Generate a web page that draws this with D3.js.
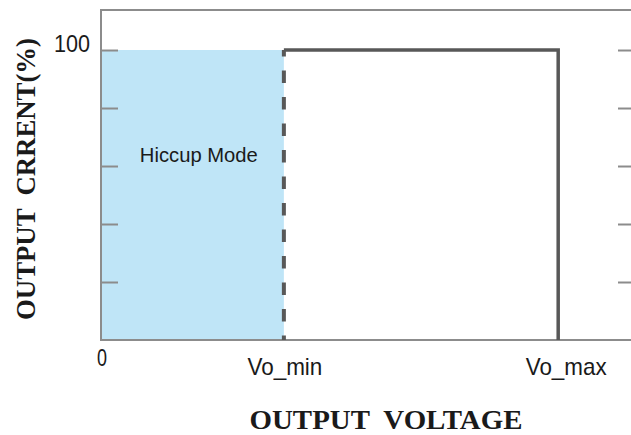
<!doctype html>
<html lang="en">
<head>
  <meta charset="utf-8">
  <script src="https://d3js.org/d3.v7.min.js"></script>
  <style>
    body { margin: 0; background: #fff; }
    text { font-family: "Liberation Sans", Arial, sans-serif; fill: #1a1a1a; }
    .title { font-family: "Liberation Serif", "Times New Roman", serif; font-weight: bold; white-space: pre; }
  </style>
</head>
<body>
  <script>
    // chart data
    var xLabels = ["0", "Vo_min", "Vo_max"];
    var xValues = [0, 1, 2.5];
    var yTicks = [20, 40, 60, 80, 100];
    var yLabel = [100];
    var hiccupArea = [[0, 0], [0, 100], [1, 100], [1, 0]];
    var hiccupEdge = [[1, 100], [1, 0]];
    var limitCurve = [[1, 100], [2.5, 100], [2.5, 0]];

    var width = 631, height = 435;

    var x = d3.scaleLinear().domain([0, 2.92]).range([101, 635]);
    var y = d3.scaleLinear().domain([0, 113.8]).range([340, 10]);

    var svg = d3.select("body").append("svg")
        .attr("width", width)
        .attr("height", height);

    var line = d3.line()
        .x(function(d) { return x(d[0]); })
        .y(function(d) { return y(d[1]); });

    // hiccup region
    svg.append("path")
        .attr("d", line(hiccupArea) + "Z")
        .style("fill", "#bfe5f7");

    // frame
    svg.append("rect")
        .attr("x", x(0)).attr("y", y(113.8))
        .attr("width", x(2.92) - x(0)).attr("height", y(0) - y(113.8))
        .style("fill", "none")
        .style("stroke", "#8c8c8c")
        .style("stroke-width", 2);

    // inward ticks, left and right
    svg.append("g")
        .attr("transform", "translate(" + x(0) + ",0)")
        .call(d3.axisRight(y).tickValues(yTicks).tickSize(17).tickFormat(""))
        .call(function(g) {
          g.select(".domain").remove();
          g.selectAll("line").style("stroke", "#8c8c8c").style("stroke-width", 2);
        });
    svg.append("g")
        .attr("transform", "translate(" + x(2.92) + ",0)")
        .call(d3.axisLeft(y).tickValues(yTicks).tickSize(17).tickFormat(""))
        .call(function(g) {
          g.select(".domain").remove();
          g.selectAll("line").style("stroke", "#8c8c8c").style("stroke-width", 2);
        });

    // dashed edge at Vo_min
    svg.append("path")
        .attr("d", line(hiccupEdge))
        .style("fill", "none")
        .style("stroke", "#585858")
        .style("stroke-width", 4)
        .style("stroke-dasharray", "12.5,14")
        .style("stroke-dashoffset", 6);

    // current limit curve
    svg.append("path")
        .attr("d", line(limitCurve))
        .style("fill", "none")
        .style("stroke", "#585858")
        .style("stroke-width", 3.5)
        .style("stroke-linejoin", "miter");

    // y tick label
    svg.selectAll(".ylab")
        .data(yLabel)
      .enter().append("text")
        .attr("x", x(0) - 11)
        .attr("y", function(d) { return y(d) + 2; })
        .attr("text-anchor", "end")
        .attr("textLength", 36)
        .attr("lengthAdjust", "spacingAndGlyphs")
        .style("font-size", "24px")
        .text(function(d) { return d; });

    // x tick labels
    svg.selectAll(".xlab")
        .data(xValues)
      .enter().append("text")
        .attr("x", function(d, i) { return x(d) + (i === 2 ? 8 : 1); })
        .attr("y", function(d, i) { return i === 0 ? 366 : 375; })
        .attr("text-anchor", "middle")
        .attr("textLength", function(d, i) { return [10, 75, 81][i]; })
        .attr("lengthAdjust", "spacingAndGlyphs")
        .style("font-size", "24px")
        .text(function(d, i) { return xLabels[i]; });

    // region label
    svg.append("text")
        .attr("x", x(0.535))
        .attr("y", y(61.4))
        .attr("text-anchor", "middle")
        .attr("textLength", 118)
        .attr("lengthAdjust", "spacingAndGlyphs")
        .style("font-size", "21px")
        .text("Hiccup Mode");

    // axis titles
    svg.append("text")
        .attr("class", "title")
        .attr("x", 386)
        .attr("y", 429)
        .attr("text-anchor", "middle")
        .attr("textLength", 273)
        .attr("lengthAdjust", "spacingAndGlyphs")
        .style("font-size", "27px")
        .text("OUTPUT  VOLTAGE");

    svg.append("text")
        .attr("class", "title")
        .attr("transform", "translate(35,179) rotate(-90)")
        .attr("text-anchor", "middle")
        .attr("textLength", 282)
        .attr("lengthAdjust", "spacingAndGlyphs")
        .style("font-size", "27px")
        .text("OUTPUT  CRRENT(%)");
  </script>
</body>
</html>
